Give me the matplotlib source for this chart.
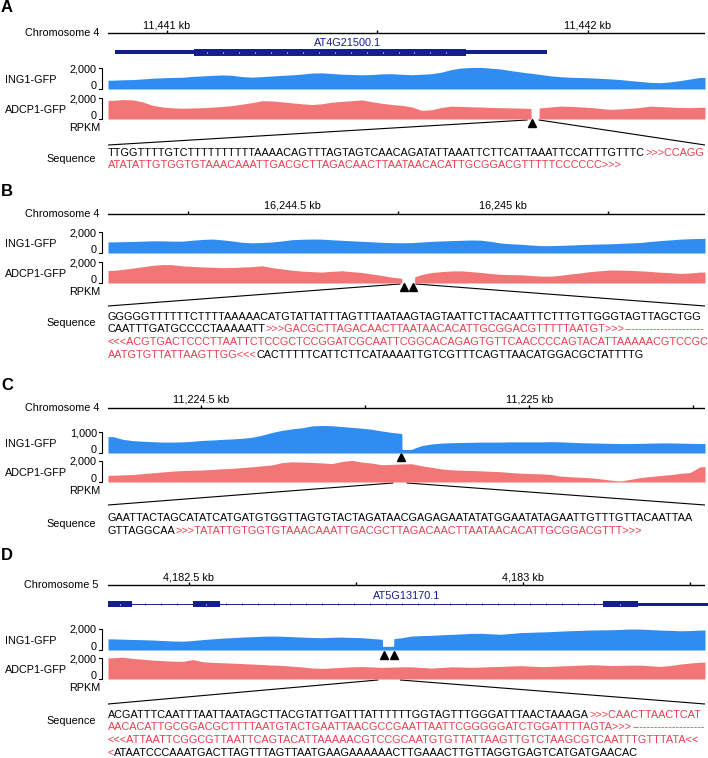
import numpy as np
import matplotlib
matplotlib.use("Agg")
from matplotlib import pyplot as plt
from matplotlib.patches import Rectangle

plt.rcParams['font.family'] = ['Liberation Sans', 'DejaVu Sans']

W, H = 708, 758
X0, X1 = 108, 705
FS = 7.8
BLUE = '#2f8df2'
RED = '#f37676'
NAVY = '#141e8c'
SEQ_RED = '#e8404e'

# ---- genomic windows (kb) and ruler ----
a_window = (11440.860, 11442.278)
b_window = (16244.061, 16245.480)
c_window = (11224.358, 11225.268)
d_window = (4182.379, 4183.273)

a_chrom, b_chrom, c_chrom, d_chrom = 'Chromosome 4', 'Chromosome 4', 'Chromosome 4', 'Chromosome 5'
a_ticks = [11441.0, 11441.5, 11442.0]
b_ticks = [16244.25, 16244.75, 16245.25]
c_ticks = [11224.5, 11224.75, 11225.0, 11225.25]
d_ticks = [4182.5, 4182.75, 4183.0, 4183.25]
a_tick_pos, a_tick_text = [11441.0, 11442.0], ['11,441 kb', '11,442 kb']
b_tick_pos, b_tick_text = [16244.5, 16245.0], ['16,244.5 kb', '16,245 kb']
c_tick_pos, c_tick_text = [11224.5, 11225.0], ['11,224.5 kb', '11,225 kb']
d_tick_pos, d_tick_text = [4182.5, 4183.0], ['4,182.5 kb', '4,183 kb']

# ---- gene models (kb) ----
a_gene_name, a_gene_label_kb = 'AT4G21500.1', 11441.428
a_utr = (11440.877, 11441.903)
a_cds = (11441.064, 11441.710)
d_gene_name, d_gene_label_kb = 'AT5G13170.1', 4182.827
d_exons = [(4182.379, 4182.415), (4182.507, 4182.546), (4183.120, 4183.172)]
d_intron = (4182.415, 4183.120)
d_utr = (4183.172, 4183.280)

# ---- coverage (RPKM), 60 even bins across each window ----
a_ing1 = [840, 880, 900, 960, 1030, 1070, 1100, 1120, 1200, 1250,
          1300, 1340, 1300, 1180, 1130, 1180, 1240, 1300, 1350, 1420,
          1520, 1540, 1480, 1410, 1380, 1350, 1380, 1440, 1460, 1400,
          1360, 1400, 1460, 1600, 1850, 2000, 2050, 2060, 1980, 1900,
          1750, 1620, 1500, 1380, 1250, 1170, 1120, 1090, 1060, 1020,
          960, 900, 800, 720, 630, 600, 680, 800, 950, 1100]
a_adcp1 = [1780, 1850, 1820, 1620, 1300, 1140, 1060, 1020, 1050, 1080,
           1130, 1200, 1280, 1420, 1560, 1740, 1720, 1630, 1540, 1450,
           1380, 1450, 1600, 1680, 1740, 1820, 1650, 1500, 1380, 1300,
           1150, 830, 880, 1100, 1220, 1200, 1160, 1140, 1100, 1080,
           1060, 1040, 1000, 1060, 1150, 1230, 1200, 1150, 1100, 1000,
           920, 960, 1020, 1100, 1230, 1180, 1140, 1100, 1080, 1120]
b_ing1 = [1060, 1080, 1100, 1130, 1160, 1160, 1130, 1130, 1220, 1290,
          1330, 1250, 1150, 1020, 970, 1000, 1050, 1150, 1270, 1310,
          1330, 1320, 1260, 1210, 1160, 1110, 1070, 1020, 990, 975,
          990, 1050, 1110, 1150, 1180, 1210, 1240, 1220, 1100, 950,
          880, 830, 760, 700, 700, 730, 760, 800, 830, 860,
          880, 920, 960, 1000, 1100, 1180, 1250, 1320, 1360, 1390]
b_adcp1 = [1200, 1300, 1420, 1550, 1680, 1760, 1740, 1630, 1580, 1530,
           1500, 1460, 1480, 1520, 1560, 1640, 1460, 1340, 1220, 1130,
           1080, 1040, 1110, 1170, 1080, 1000, 860, 720, 560, 450,
           500, 800, 1000, 1080, 1150, 1160, 1080, 1000, 900, 820,
           800, 780, 720, 660, 650, 740, 860, 960, 1090, 1170,
           1240, 1230, 1200, 1160, 1100, 1030, 980, 910, 960, 1040]
c_ing1 = [780, 650, 590, 560, 540, 520, 520, 530, 560, 600,
          620, 650, 670, 700, 750, 850, 980, 1080, 1150, 1200,
          1290, 1310, 1300, 1260, 1220, 1180, 1130, 1050, 980, 930,
          180, 350, 430, 470, 490, 500, 510, 520, 520, 520,
          530, 530, 530, 530, 540, 530, 510, 490, 480, 470,
          460, 450, 450, 460, 470, 480, 480, 470, 460, 450]
c_adcp1 = [640, 680, 710, 800, 880, 960, 1040, 1090, 1120, 1140,
           1200, 1260, 1300, 1380, 1450, 1540, 1630, 1850, 1920, 1900,
           1860, 1820, 1750, 1950, 2060, 1900, 1800, 1650, 1680, 1720,
           1740, 1550, 1400, 1250, 1160, 1120, 1100, 1060, 1020, 980,
           900, 840, 800, 780, 720, 560, 500, 450, 400, 300,
           180, 100, 250, 420, 520, 620, 700, 820, 900, 1450]
d_ing1 = [1060, 1030, 1000, 980, 950, 900, 860, 840, 900, 990,
          1060, 1130, 1180, 1230, 1270, 1310, 1330, 1310, 1270, 1230,
          1190, 1170, 1210, 1230, 1200, 1170, 1100, 1020, 1050, 1170,
          1330, 1370, 1400, 1450, 1490, 1530, 1580, 1590, 1540, 1500,
          1580, 1660, 1690, 1720, 1750, 1800, 1840, 1870, 1900, 1920,
          1930, 1960, 2000, 1990, 1950, 1900, 1870, 1830, 1850, 1900]
d_adcp1 = [2020, 2080, 1960, 1880, 1800, 1750, 1700, 1680, 1850, 1650,
           1580, 1550, 1510, 1470, 1420, 1380, 1330, 1290, 1220, 1150,
           1050, 1010, 1060, 1110, 1160, 1190, 1150, 1110, 1130, 1160,
           1160, 1100, 1040, 1100, 1160, 1140, 1110, 1140, 1180, 1200,
           1240, 1270, 1220, 1180, 1200, 1250, 1280, 1320, 1360, 1330,
           1280, 1300, 1320, 1320, 1260, 1200, 1280, 1420, 1520, 1600]

# dropouts at the insertion sites: (start kb, end kb, RPKM)
a_adcp1_gaps = [(11441.865, 11441.884, 0)]
b_adcp1_gaps = [(16244.759, 16244.790, 0)]
c_ing1_gaps = [(11224.806, 11224.822, 170)]
d_ing1_gaps = [(4182.790, 4182.807, 350)]

a_scale, b_scale, c_scale, d_scale = (2000, 2000), (2000, 2000), (1000, 2000), (2000, 2000)
a_scale_text, b_scale_text = ('2,000', '2,000'), ('2,000', '2,000')
c_scale_text, d_scale_text = ('1,000', '2,000'), ('2,000', '2,000')

# insertion markers and zoomed region (kb)
a_marks, a_zoom = [11441.868], (11441.855, 11441.884)
b_marks, b_zoom = [16244.764, 16244.787], (16244.755, 16244.793)
c_marks, c_zoom = [11224.805], (11224.792, 11224.814)
d_marks, d_zoom = [4182.792, 4182.808], (4182.783, 4182.817)

# ---- sequences: (text, colour) segments per line, 'fill' = dashes to line end ----
a_seq = [
    [('TTGGTTTTGTCTTTTTTTTTTAAAACAGTTTAGTAGTCAACAGATATTAAATTCTTCATTAAATTCCATTTGTTTC', 'k'), ('>>>CCAGG', 'r')],
    [('ATATATTGTGGTGTAAACAAATTGACGCTTAGACAACTTAATAACACATTGCGGACGTTTTTCCCCCC>>>', 'r')],
]
b_seq = [
    [('GGGGGTTTTTTCTTTTAAAAACATGTATTATTTAGTTTAATAAGTAGTAATTCTTACAATTTCTTTGTTGGGTAGTTAGCTGG', 'k')],
    [('CAATTTGATGCCCCTAAAAATT', 'k'), ('>>>GACGCTTAGACAACTTAATAACACATTGCGGACGTTTTTAATGT>>>', 'r'), ('-', 'fill')],
    [('<<<ACGTGACTCCCTTAATTCTCCGCTCCGGATCGCAATTCGGCACAGAGTGTTCAACCCCAGTACATTAAAAACGTCCGC', 'r')],
    [('AATGTGTTATTAAGTTGG<<<', 'r'), ('CACTTTTTCATTCTTCATAAAATTGTCGTTTCAGTTAACATGGACGCTATTTTG', 'k')],
]
c_seq = [
    [('GAATTACTAGCATATCATGATGTGGTTAGTGTACTAGATAACGAGAGAATATATGGAATATAGAATTGTTTGTTACAATTAA', 'k')],
    [('GTTAGGCAA', 'k'), ('>>>TATATTGTGGTGTAAACAAATTGACGCTTAGACAACTTAATAACACATTGCGGACGTTT>>>', 'r')],
]
d_seq = [
    [('ACGATTTCAATTTAATTAATAGCTTACGTATTGATTTATTTTTTGGTAGTTTGGGATTTAACTAAAGA', 'k'), ('>>>CAACTTAACTCAT', 'r')],
    [('AACACATTGCGGACGCTTTTAATGTACTGAATTAACGCCGAATTAATTCGGGGGATCTGGATTTTAGTA>>>', 'r'), ('-', 'fill')],
    [('<<<ATTAATTCGGCGTTAATTCAGTACATTAAAAACGTCCGCAATGTGTTATTAAGTTGTCTAAGCGTCAATTTGTTTATA<<', 'r')],
    [('<', 'r'), ('ATAATCCCAAATGACTTAGTTTAGTTAATGAAGAAAAAACTTGAAACTTGTTAGGTGAGTCATGATGAACAC', 'k')],
]

fig = plt.figure(figsize=(W / 100, H / 100), dpi=100)
ov = fig.add_axes([0, 0, 1, 1])
ov.set_xlim(0, W)
ov.set_ylim(H, 0)
ov.axis('off')
renderer = fig.canvas.get_renderer()


def panel_axes(window):
    ax = fig.add_axes([X0 / W, 0, (X1 - X0) / W, 1])
    ax.set_xlim(*window)
    ax.set_ylim(H, 0)
    ax.axis('off')
    return ax


def ruler(ax, window, y, chrom, ticks, tick_pos, tick_text):
    ax.plot(window, [y, y], color='k', lw=1)
    ax.vlines(ticks, y - 3, y, color='k', lw=1)
    for p, t in zip(tick_pos, tick_text):
        ax.text(p, y - 8, t, ha='center', va='center', fontsize=FS)
    ov.text(99, y, chrom, ha='right', va='center', fontsize=FS)


def track(window, base, scale, scale_text, name, values, color, gaps):
    h = 30
    tax = fig.add_axes([X0 / W, 1 - base / H, (X1 - X0) / W, h / H])
    tax.set_xlim(*window)
    tax.set_ylim(0, scale * h / 21)
    tax.axis('off')
    vals = np.asarray(values, float)
    edges = np.linspace(window[0], window[1], len(vals) + 1)
    centers = (edges[:-1] + edges[1:]) / 2
    xf = np.linspace(window[0], window[1], 3000)
    yf = np.interp(xf, centers, vals)
    for s, e, v in gaps:
        yf[(xf >= s) & (xf <= e)] = v
    tax.fill_between(xf, 0, yf, color=color, lw=0)
    top = base - 21
    ov.plot([99, 101.5, 101.5, 99], [top, top, base - 0.5, base - 0.5], color='k', lw=0.8)
    ov.text(97, top + 1, scale_text, ha='right', va='center', fontsize=FS)
    ov.text(97, base - 3, '0', ha='right', va='center', fontsize=FS)
    ov.text(5, base - 9, name, ha='left', va='center', fontsize=FS)


def marks(ax, xs, y):
    ax.plot(xs, [y] * len(xs), ls='none', marker='^', ms=6, color='k', clip_on=False)


def zoom_lines(ax, window, zoom, y_top, y_bot):
    ax.plot([window[0], zoom[0]], [y_bot, y_top], color='k', lw=0.8)
    ax.plot([zoom[1], window[1]], [y_top, y_bot], color='k', lw=0.8)


def sequence(lines, y0, dy=12.5):
    ov.text(96, y0 + 6, 'Sequence', ha='right', va='center', fontsize=FS)
    for i, segs in enumerate(lines):
        x = X0
        y = y0 + i * dy
        for text, kind in segs:
            if kind == 'fill':
                probe = ov.text(0, 0, '-', fontsize=FS)
                w = probe.get_window_extent(renderer).width
                probe.remove()
                text = '-' * int((X1 - x) / w)
                kind = 'r'
            col = SEQ_RED if kind == 'r' else 'k'
            t = ov.text(x, y, text, ha='left', va='center', fontsize=FS, color=col)
            x = t.get_window_extent(renderer).x1


def letter(y, s):
    ov.text(1, y, s, ha='left', va='center', fontsize=12, fontweight='bold')


# ---------------- A ----------------
letter(7, 'A')
ax = panel_axes(a_window)
ruler(ax, a_window, 33, a_chrom, a_ticks, a_tick_pos, a_tick_text)
ax.text(a_gene_label_kb, 43, a_gene_name, ha='center', va='center', fontsize=FS, color=NAVY)
ax.add_patch(Rectangle((a_utr[0], 50), a_utr[1] - a_utr[0], 4, color=NAVY, lw=0))
ax.add_patch(Rectangle((a_cds[0], 48.5), a_cds[1] - a_cds[0], 7, color=NAVY, lw=0))
ax.vlines(np.arange(a_cds[0] + 0.03, a_cds[1] - 0.01, 0.038), 51.5, 52.5, color='white', lw=0.8)
track(a_window, 89, a_scale[0], a_scale_text[0], 'ING1-GFP', a_ing1, BLUE, [])
track(a_window, 119, a_scale[1], a_scale_text[1], 'ADCP1-GFP', a_adcp1, RED, a_adcp1_gaps)
marks(ax, a_marks, 123)
ov.text(100, 128, 'RPKM', ha='right', va='center', fontsize=FS)
zoom_lines(ax, a_window, a_zoom, 120, 145)
sequence(a_seq, 153)

# ---------------- B ----------------
letter(192, 'B')
ax = panel_axes(b_window)
ruler(ax, b_window, 214, b_chrom, b_ticks, b_tick_pos, b_tick_text)
track(b_window, 253, b_scale[0], b_scale_text[0], 'ING1-GFP', b_ing1, BLUE, [])
track(b_window, 283, b_scale[1], b_scale_text[1], 'ADCP1-GFP', b_adcp1, RED, b_adcp1_gaps)
marks(ax, b_marks, 287)
ov.text(100, 292, 'RPKM', ha='right', va='center', fontsize=FS)
zoom_lines(ax, b_window, b_zoom, 284, 306)
sequence(b_seq, 317)

# ---------------- C ----------------
letter(386, 'C')
ax = panel_axes(c_window)
ruler(ax, c_window, 408, c_chrom, c_ticks, c_tick_pos, c_tick_text)
track(c_window, 453, c_scale[0], c_scale_text[0], 'ING1-GFP', c_ing1, BLUE, c_ing1_gaps)
track(c_window, 482, c_scale[1], c_scale_text[1], 'ADCP1-GFP', c_adcp1, RED, [])
marks(ax, c_marks, 457)
ov.text(100, 491, 'RPKM', ha='right', va='center', fontsize=FS)
zoom_lines(ax, c_window, c_zoom, 483, 505)
sequence(c_seq, 518)

# ---------------- D ----------------
letter(556, 'D')
ax = panel_axes(d_window)
ruler(ax, d_window, 585, d_chrom, d_ticks, d_tick_pos, d_tick_text)
ax.text(d_gene_label_kb, 596, d_gene_name, ha='center', va='center', fontsize=FS, color=NAVY)
ax.plot(d_intron, [604, 604], color=NAVY, lw=0.7)
ax.vlines(np.arange(d_intron[0] + 0.02, d_intron[1], 0.024), 603, 605, color=NAVY, lw=0.5)
ax.add_patch(Rectangle((d_utr[0], 602.5), d_utr[1] - d_utr[0], 3, color=NAVY, lw=0, clip_on=False))
for s, e in d_exons:
    ax.add_patch(Rectangle((s, 601), e - s, 6, color=NAVY, lw=0))
    ax.vlines([(s + e) / 2], 603.5, 604.5, color='white', lw=0.8)
track(d_window, 650, d_scale[0], d_scale_text[0], 'ING1-GFP', d_ing1, BLUE, d_ing1_gaps)
track(d_window, 679, d_scale[1], d_scale_text[1], 'ADCP1-GFP', d_adcp1, RED, [])
marks(ax, d_marks, 655)
ov.text(100, 688, 'RPKM', ha='right', va='center', fontsize=FS)
zoom_lines(ax, d_window, d_zoom, 680, 704)
sequence(d_seq, 715)

fig.savefig('out.png', dpi=100)
